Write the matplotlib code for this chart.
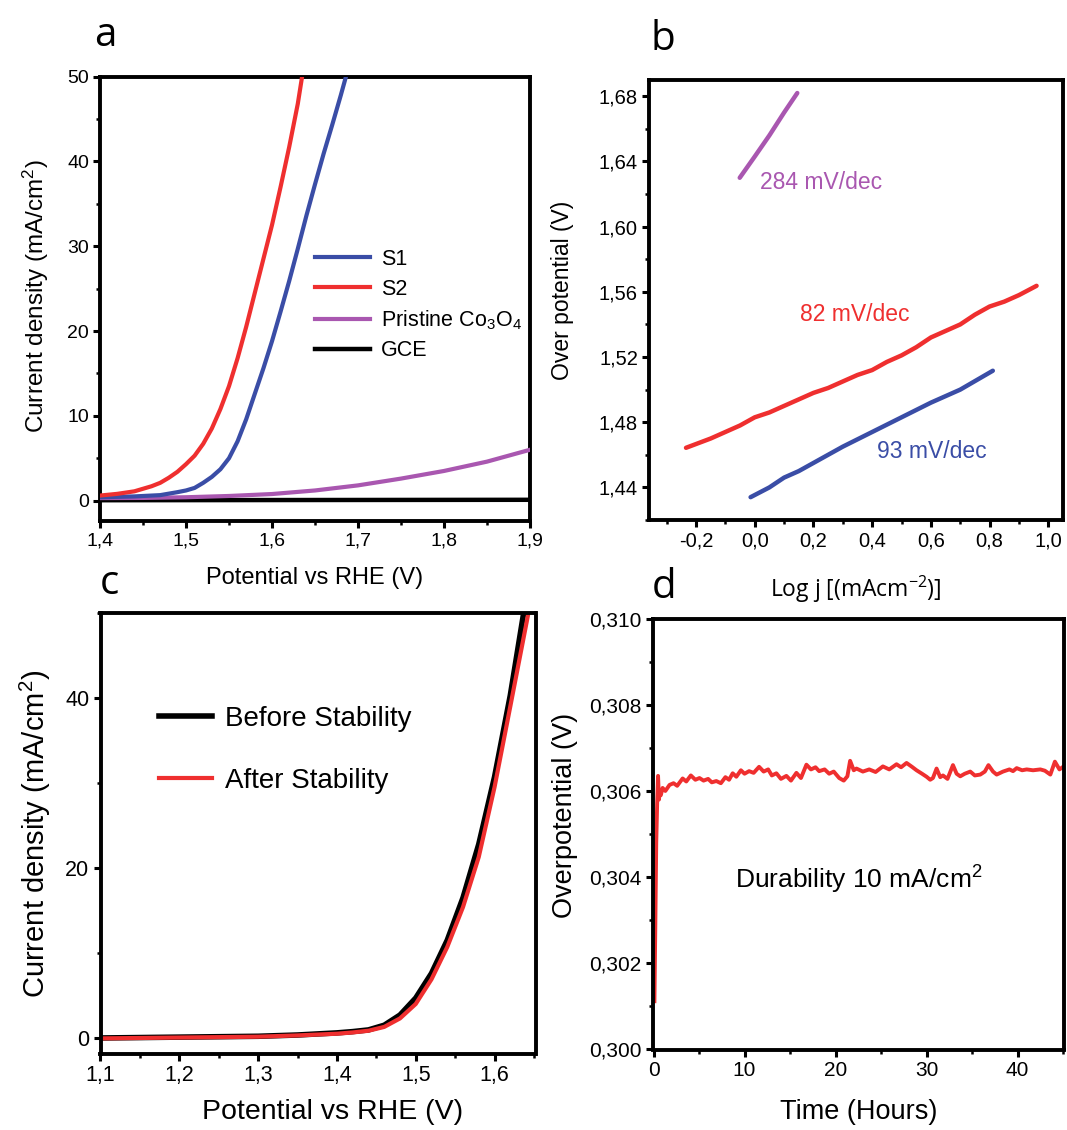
import numpy as np
import matplotlib
matplotlib.use("Agg")
import matplotlib.pyplot as plt
from matplotlib.ticker import FuncFormatter, MultipleLocator

plt.rcParams['font.family'] = ['Liberation Sans', 'DejaVu Sans']
plt.rcParams['mathtext.default'] = 'regular'

W, H = 1067, 1130

# ---- panel a: LSV curves
a_s2_x = [1.40, 1.42, 1.44, 1.46, 1.47, 1.48, 1.49, 1.50, 1.51, 1.52, 1.53, 1.54, 1.55,
          1.56, 1.57, 1.58, 1.59, 1.60, 1.61, 1.62, 1.63, 1.635]
a_s2_y = [0.6, 0.8, 1.1, 1.7, 2.1, 2.7, 3.4, 4.3, 5.3, 6.7, 8.5, 10.8, 13.5,
          16.8, 20.5, 24.5, 28.5, 32.5, 37.0, 41.7, 46.8, 50.0]
a_s1_x = [1.40, 1.44, 1.47, 1.49, 1.50, 1.51, 1.52, 1.53, 1.54, 1.55, 1.56, 1.57, 1.58,
          1.59, 1.60, 1.61, 1.62, 1.63, 1.64, 1.65, 1.66, 1.67, 1.68, 1.686]
a_s1_y = [0.4, 0.5, 0.65, 1.0, 1.2, 1.5, 2.1, 2.8, 3.7, 5.0, 7.0, 9.6, 12.6,
          15.6, 18.8, 22.3, 25.9, 29.7, 33.6, 37.3, 40.9, 44.3, 47.8, 50.0]
a_co_x = [1.40, 1.45, 1.50, 1.55, 1.60, 1.65, 1.70, 1.75, 1.80, 1.85, 1.90]
a_co_y = [0.3, 0.32, 0.4, 0.55, 0.78, 1.2, 1.8, 2.6, 3.5, 4.6, 6.0]
a_gce_x = [1.40, 1.90]
a_gce_y = [0.05, 0.1]

# ---- panel b: Tafel
b_co_x = [-0.051, 0.0, 0.05, 0.10, 0.145]
b_co_y = [1.630, 1.643, 1.656, 1.670, 1.682]
b_s2_x = [-0.234, -0.15, -0.1, -0.05, 0.0, 0.05, 0.1, 0.15, 0.2, 0.25, 0.3, 0.35, 0.4,
          0.45, 0.5, 0.55, 0.6, 0.65, 0.7, 0.75, 0.8, 0.85, 0.9, 0.96]
b_s2_y = [1.4643, 1.470, 1.474, 1.478, 1.483, 1.486, 1.490, 1.494, 1.498, 1.501, 1.505,
          1.509, 1.512, 1.517, 1.521, 1.526, 1.532, 1.536, 1.540, 1.546, 1.551, 1.554, 1.558, 1.5637]
b_s1_x = [-0.014, 0.05, 0.1, 0.15, 0.2, 0.3, 0.4, 0.5, 0.6, 0.7, 0.811]
b_s1_y = [1.434, 1.440, 1.446, 1.450, 1.455, 1.465, 1.474, 1.483, 1.492, 1.500, 1.5116]

# ---- panel c: before / after stability
c_x_before = [1.10, 1.15, 1.20, 1.25, 1.30, 1.35, 1.40, 1.42, 1.44, 1.46, 1.48, 1.50,
              1.52, 1.54, 1.56, 1.58, 1.60, 1.62, 1.637]
c_y_before = [0.0, 0.05, 0.1, 0.15, 0.2, 0.35, 0.6, 0.75, 0.95, 1.5, 2.7, 4.7,
              7.6, 11.5, 16.5, 22.8, 30.7, 40.3, 50.0]
c_x_after = [1.10, 1.15, 1.20, 1.25, 1.30, 1.35, 1.40, 1.42, 1.44, 1.46, 1.48, 1.50,
             1.52, 1.54, 1.56, 1.58, 1.60, 1.62, 1.643]
c_y_after = [-0.05, 0.0, 0.05, 0.1, 0.15, 0.3, 0.5, 0.65, 0.85, 1.3, 2.3, 4.0,
             6.9, 10.7, 15.4, 21.3, 29.5, 39.0, 50.0]

# ---- panel d: chronopotentiometry
d_t = [0.1, 0.2, 0.3, 0.4, 0.5, 0.6, 0.7, 0.8, 1.0, 1.3, 1.76, 2.2, 2.6, 3.2, 3.6, 4.1,
       4.6, 5.05, 5.5, 6.0, 6.4, 6.9, 7.4, 7.9, 8.3, 8.7, 9.1, 9.6, 10.0, 10.5, 11.0, 11.6,
       12.1, 12.6, 13.0, 13.5, 14.0, 14.6, 15.1, 15.7, 16.2, 16.8, 17.3, 17.8, 18.2, 18.8,
       19.3, 19.8, 20.4, 20.9, 21.3, 21.6, 22.0, 22.3, 23.0, 23.7, 24.4, 25.2, 25.9, 26.7,
       27.2, 27.8, 28.4, 28.9, 29.5, 30.0, 30.4, 30.7, 31.1, 31.5, 31.8, 32.3, 32.9, 33.3,
       33.7, 34.2, 34.8, 35.3, 35.9, 36.4, 36.8, 37.3, 37.7, 38.4, 39.1, 39.5, 39.9, 40.5,
       41.0, 41.7, 42.5, 43.0, 43.6, 44.1, 44.6, 45.0]
d_v = [0.30112, 0.30290, 0.30480, 0.30570, 0.30635, 0.30580, 0.30600, 0.30590, 0.30607,
       0.30600, 0.30614, 0.30618, 0.30612, 0.30629, 0.30622, 0.30636, 0.30626, 0.30630,
       0.30624, 0.30628, 0.30620, 0.30623, 0.30618, 0.30632, 0.30626, 0.30641, 0.30633,
       0.30648, 0.30640, 0.30646, 0.30642, 0.30656, 0.30645, 0.30650, 0.30636, 0.30641,
       0.30628, 0.30635, 0.30624, 0.30642, 0.30630, 0.30661, 0.30650, 0.30655, 0.30646,
       0.30650, 0.30640, 0.30645, 0.30630, 0.30624, 0.30634, 0.30670, 0.30648, 0.30652,
       0.30645, 0.30650, 0.30644, 0.30657, 0.30650, 0.30662, 0.30655, 0.30665, 0.30656,
       0.30648, 0.30640, 0.30633, 0.30626, 0.30630, 0.30652, 0.30632, 0.30636, 0.30628,
       0.30660, 0.30640, 0.30634, 0.30640, 0.30645, 0.30636, 0.30638, 0.30645, 0.30660,
       0.30645, 0.30638, 0.30645, 0.30650, 0.30646, 0.30653, 0.30648, 0.30650, 0.30648,
       0.30650, 0.30647, 0.30638, 0.30668, 0.30650, 0.30656]

blue = '#3a4da6'
red = '#ef2f2f'
purple = '#a957b0'


def comma_fmt(decimals):
    return FuncFormatter(lambda v, p: f"{v:.{decimals}f}".replace('.', ','))


def style_axes(ax, tick_fs):
    for s in ax.spines.values():
        s.set_linewidth(2.8)
    ax.tick_params(which='major', direction='out', length=5, width=2.2,
                   labelsize=tick_fs, top=False, right=False, pad=3)
    ax.tick_params(which='minor', direction='out', length=3, width=1.8,
                   top=False, right=False)


def px_axes(l, t, r, b):
    return [l / W, 1 - b / H, (r - l) / W, (b - t) / H]


fig = plt.figure(figsize=(W / 100, H / 100), dpi=100)

# ---------------- a
ax = fig.add_axes(px_axes(100, 76.6, 530, 521))
ax.plot(a_gce_x, a_gce_y, color='black', lw=3.2, label='GCE', zorder=2)
ax.plot(a_co_x, a_co_y, color=purple, lw=3, label='Pristine Co$_3$O$_4$', zorder=3)
ax.plot(a_s1_x, a_s1_y, color=blue, lw=3, label='S1', zorder=4)
ax.plot(a_s2_x, a_s2_y, color=red, lw=3, label='S2', zorder=5)
ax.set_xlim(1.4, 1.9)
ax.set_ylim(-2.4, 50)
ax.xaxis.set_major_locator(MultipleLocator(0.1))
ax.xaxis.set_minor_locator(MultipleLocator(0.05))
ax.yaxis.set_major_locator(MultipleLocator(10))
ax.yaxis.set_minor_locator(MultipleLocator(5))
ax.xaxis.set_major_formatter(comma_fmt(1))
style_axes(ax, 14)
ax.set_xlabel('Potential vs RHE (V)', fontsize=17, va='center')
ax.xaxis.set_label_coords(0.5, -0.128)
ax.set_ylabel('Current density (mA/cm$^2$)', fontsize=17.5, va='center')
ax.yaxis.set_label_coords(-0.149, 0.506)
handles, labels = ax.get_legend_handles_labels()
order = [2, 3, 1, 0]
ax.legend([handles[i] for i in order], [labels[i] for i in order], frameon=False,
          fontsize=15.5, loc='upper left', bbox_to_anchor=(0.5, 0.612), borderpad=0,
          borderaxespad=0, handlelength=2.55, handletextpad=0.5, labelspacing=0.4)

# ---------------- b
ax = fig.add_axes(px_axes(649, 80, 1063, 520))
ax.plot(b_co_x, b_co_y, color=purple, lw=3.2, solid_capstyle='round')
ax.plot(b_s2_x, b_s2_y, color=red, lw=3.2, solid_capstyle='round')
ax.plot(b_s1_x, b_s1_y, color=blue, lw=3.2, solid_capstyle='round')
ax.set_xlim(-0.36, 1.05)
ax.set_ylim(1.42, 1.69)
ax.xaxis.set_major_locator(MultipleLocator(0.2))
ax.xaxis.set_minor_locator(MultipleLocator(0.1))
ax.yaxis.set_major_locator(MultipleLocator(0.04))
ax.yaxis.set_minor_locator(MultipleLocator(0.02))
ax.xaxis.set_major_formatter(comma_fmt(1))
ax.yaxis.set_major_formatter(comma_fmt(2))
style_axes(ax, 14.5)
ax.text(0.017, 1.627, '284 mV/dec', color=purple, fontsize=16.5, va='center')
ax.text(0.154, 1.546, '82 mV/dec', color=red, fontsize=16.5, va='center')
ax.text(0.415, 1.462, '93 mV/dec', color=blue, fontsize=16.5, va='center')
ax.set_xlabel('Log j [(mAcm$^{-2}$)]', fontsize=16.5, va='center',
              family=['Open Sans', 'DejaVu Sans'])
ax.xaxis.set_label_coords(0.5, -0.158)
ax.set_ylabel('Over potential (V)', fontsize=16.5, va='center')
ax.yaxis.set_label_coords(-0.208, 0.523)

# ---------------- c
ax = fig.add_axes(px_axes(100.5, 613, 535.5, 1053.7))
ax.plot(c_x_before, c_y_before, color='black', lw=4, label='Before Stability')
ax.plot(c_x_after, c_y_after, color=red, lw=3, label='After Stability')
ax.set_xlim(1.1, 1.652)
ax.set_ylim(-1.85, 50)
ax.xaxis.set_major_locator(MultipleLocator(0.1))
ax.xaxis.set_minor_locator(MultipleLocator(0.05))
ax.yaxis.set_major_locator(MultipleLocator(20))
ax.yaxis.set_minor_locator(MultipleLocator(10))
ax.xaxis.set_major_formatter(comma_fmt(1))
style_axes(ax, 15.5)
ax.set_xlabel('Potential vs RHE (V)', fontsize=20.5, va='center')
ax.xaxis.set_label_coords(0.534, -0.132)
ax.set_ylabel('Current density (mA/cm$^2$)', fontsize=21, va='center')
ax.yaxis.set_label_coords(-0.15, 0.5)
ax.legend(frameon=False, fontsize=20, loc='upper left', bbox_to_anchor=(0.134, 0.79),
          borderpad=0, borderaxespad=0, handlelength=1.9, handletextpad=0.5,
          labelspacing=1.3)

# ---------------- d
ax = fig.add_axes(px_axes(652.6, 618.6, 1064, 1049.5))
ax.plot(d_t, d_v, color=red, lw=2.8)
ax.set_xlim(-0.1, 45.1)
ax.set_ylim(0.300, 0.310)
ax.xaxis.set_major_locator(MultipleLocator(10))
ax.xaxis.set_minor_locator(MultipleLocator(5))
ax.yaxis.set_major_locator(MultipleLocator(0.002))
ax.yaxis.set_minor_locator(MultipleLocator(0.001))
ax.yaxis.set_major_formatter(comma_fmt(3))
style_axes(ax, 15)
ax.text(22.6, 0.30393, 'Durability 10 mA/cm$^2$', fontsize=19, ha='center', va='center')
ax.set_xlabel('Time (Hours)', fontsize=19.5, va='center')
ax.xaxis.set_label_coords(0.5, -0.145)
ax.set_ylabel('Overpotential (V)', fontsize=19.5, va='center')
ax.yaxis.set_label_coords(-0.213, 0.544)

# panel letters
for letter, x, y in [('a', 94, 46), ('b', 651, 50), ('c', 100, 594), ('d', 652, 598)]:
    fig.text(x / W, 1 - y / H, letter, fontsize=29, ha='left', va='baseline',
             family=['Open Sans', 'DejaVu Sans'])

fig.savefig('out.png', dpi=100)
